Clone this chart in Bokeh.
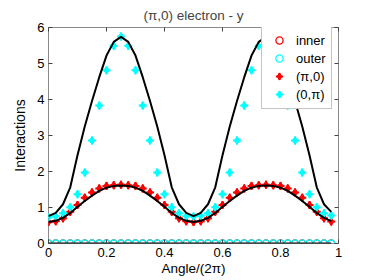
from bokeh.plotting import figure
from bokeh.models import FixedTicker, LinearAxis, Legend, LegendItem, Range1d, ColumnDataSource
from bokeh.embed import file_html
from bokeh.resources import INLINE

# ---- data ----
angle = [0.000, 0.025, 0.050, 0.075, 0.100, 0.125, 0.150, 0.175, 0.200, 0.225,
         0.250, 0.275, 0.300, 0.325, 0.350, 0.375, 0.400, 0.425, 0.450, 0.475,
         0.500, 0.525, 0.550, 0.575, 0.600, 0.625, 0.650, 0.675, 0.700, 0.725,
         0.750, 0.775, 0.800, 0.825, 0.850, 0.875, 0.900, 0.925, 0.950, 0.975]

inner = [0.0, 0.0, 0.0, 0.0, 0.0, 0.0, 0.0, 0.0, 0.0, 0.0,
         0.0, 0.0, 0.0, 0.0, 0.0, 0.0, 0.0, 0.0, 0.0, 0.0,
         0.0, 0.0, 0.0, 0.0, 0.0, 0.0, 0.0, 0.0, 0.0, 0.0,
         0.0, 0.0, 0.0, 0.0, 0.0, 0.0, 0.0, 0.0, 0.0, 0.0]

outer = [0.0, 0.0, 0.0, 0.0, 0.0, 0.0, 0.0, 0.0, 0.0, 0.0,
         0.0, 0.0, 0.0, 0.0, 0.0, 0.0, 0.0, 0.0, 0.0, 0.0,
         0.0, 0.0, 0.0, 0.0, 0.0, 0.0, 0.0, 0.0, 0.0, 0.0,
         0.0, 0.0, 0.0, 0.0, 0.0, 0.0, 0.0, 0.0, 0.0, 0.0]

pi_0 = [0.60, 0.62, 0.70, 0.88, 1.07, 1.27, 1.42, 1.53, 1.60, 1.62,
        1.63, 1.62, 1.60, 1.53, 1.42, 1.27, 1.07, 0.88, 0.70, 0.62,
        0.60, 0.62, 0.70, 0.88, 1.07, 1.27, 1.42, 1.53, 1.60, 1.62,
        1.63, 1.62, 1.60, 1.53, 1.42, 1.27, 1.07, 0.88, 0.70, 0.61]

zero_pi = [0.73, 0.76, 0.84, 1.01, 1.37, 1.97, 2.86, 3.83, 4.81, 5.49,
           5.75, 5.49, 4.81, 3.83, 2.86, 1.97, 1.37, 1.01, 0.84, 0.76,
           0.75, 0.77, 0.84, 1.01, 1.37, 1.97, 2.86, 3.83, 4.81, 5.49,
           5.75, 5.49, 4.81, 3.83, 2.86, 1.97, 1.37, 1.01, 0.84, 0.78]

model_high = [0.76, 0.85, 1.09, 1.56, 2.45, 3.25, 3.96, 4.62, 5.22, 5.60,
              5.74, 5.60, 5.22, 4.62, 3.96, 3.25, 2.45, 1.56, 1.09, 0.85,
              0.76, 0.85, 1.09, 1.56, 2.45, 3.25, 3.96, 4.62, 5.22, 5.60,
              5.74, 5.60, 5.22, 4.62, 3.96, 3.25, 2.45, 1.56, 1.09, 0.88]

model_low = [0.60, 0.63, 0.71, 0.85, 1.02, 1.18, 1.33, 1.46, 1.55, 1.60,
             1.61, 1.60, 1.55, 1.46, 1.33, 1.18, 1.02, 0.85, 0.71, 0.63,
             0.60, 0.63, 0.71, 0.85, 1.02, 1.18, 1.33, 1.46, 1.55, 1.60,
             1.61, 1.60, 1.55, 1.46, 1.33, 1.18, 1.02, 0.85, 0.71, 0.62]

model_zero = [0.0, 0.0, 0.0, 0.0, 0.0, 0.0, 0.0, 0.0, 0.0, 0.0,
              0.0, 0.0, 0.0, 0.0, 0.0, 0.0, 0.0, 0.0, 0.0, 0.0,
              0.0, 0.0, 0.0, 0.0, 0.0, 0.0, 0.0, 0.0, 0.0, 0.0,
              0.0, 0.0, 0.0, 0.0, 0.0, 0.0, 0.0, 0.0, 0.0, 0.0]

x_ticks = [0, 0.2, 0.4, 0.6, 0.8, 1]
x_tick_labels = ["0", "0.2", "0.4", "0.6", "0.8", "1"]
y_ticks = [0, 1, 2, 3, 4, 5, 6]
y_tick_labels = ["0", "1", "2", "3", "4", "5", "6"]

title_text = "(\u03c0,0) electron - y"
x_label = "Angle/(2\u03c0)"
y_label = "Interactions"
legend_labels = ["inner", "outer", "(\u03c0,0)", "(0,\u03c0)"]

src = ColumnDataSource(dict(angle=angle, inner=inner, outer=outer, pi_0=pi_0,
                            zero_pi=zero_pi, model_high=model_high,
                            model_low=model_low, model_zero=model_zero))

FONT = "Liberation Sans"
GRAY = "#8a8a8a"
RED = "#ff0000"
CYAN = "#00ffff"

p = figure(width=374, height=280, x_range=Range1d(0, 1), y_range=Range1d(0, 6),
           output_backend="svg", toolbar_location=None,
           min_border_left=48, min_border_right=36, min_border_top=25,
           min_border_bottom=37)

p.title.text = title_text
p.title.align = "center"
p.title.text_font = FONT
p.title.text_font_size = "13.5px"
p.title.text_font_style = "normal"
p.title.standoff = 10

p.xgrid.visible = False
p.ygrid.visible = False
p.outline_line_color = GRAY
p.background_fill_color = "white"
p.border_fill_color = "white"

for ax, ticks, labels in ((p.xaxis[0], x_ticks, x_tick_labels), (p.yaxis[0], y_ticks, y_tick_labels)):
    ax.ticker = FixedTicker(ticks=ticks)
    ax.major_label_overrides = {t: l for t, l in zip(ticks, labels)}
    ax.axis_line_color = None
    ax.major_tick_in = 4
    ax.major_tick_out = 0
    ax.major_tick_line_color = "#444444"
    ax.minor_tick_line_color = None
    ax.major_label_text_font = FONT
    ax.major_label_text_font_size = "13px"
    ax.major_label_text_color = "black"
    ax.axis_label_text_font = FONT
    ax.axis_label_text_font_style = "normal"
    ax.axis_label_text_color = "black"

p.xaxis[0].axis_label = x_label
p.xaxis[0].axis_label_text_font_size = "13.5px"
p.xaxis[0].major_label_standoff = 4
p.xaxis[0].axis_label_standoff = 1
p.yaxis[0].axis_label = y_label
p.yaxis[0].axis_label_text_font_size = "14px"
p.yaxis[0].major_label_standoff = 4
p.yaxis[0].axis_label_standoff = 6

# mirrored tick marks on the right and top (box on), without labels
for loc, ticks in (("right", y_ticks), ("above", x_ticks)):
    ax = LinearAxis(ticker=FixedTicker(ticks=ticks),
                    major_label_overrides={t: "" for t in ticks},
                    major_label_standoff=0, major_tick_in=4, major_tick_out=0,
                    major_tick_line_color="#444444", minor_tick_line_color=None,
                    axis_line_color=None)
    p.add_layout(ax, loc)

r_inner = p.scatter("angle", "inner", source=src, marker="circle", size=7,
                    fill_color=None, line_color=RED, line_width=1.3)
r_outer = p.scatter("angle", "outer", source=src, marker="circle", size=7,
                    fill_color=None, line_color=CYAN, line_width=1.3)
r_pi0_d = p.scatter("angle", "pi_0", source=src, marker="diamond", size=8,
                    fill_color=RED, line_color=RED, line_width=1)
r_pi0_c = p.scatter("angle", "pi_0", source=src, marker="cross", size=8,
                    line_color=RED, line_width=2)
r_0pi_d = p.scatter("angle", "zero_pi", source=src, marker="diamond", size=8,
                    fill_color=CYAN, line_color=CYAN, line_width=1)
r_0pi_c = p.scatter("angle", "zero_pi", source=src, marker="cross", size=8,
                    line_color=CYAN, line_width=2)

for col in ("model_high", "model_low", "model_zero"):
    p.line("angle", col, source=src, line_color="black", line_width=2)

legend = Legend(items=[
    LegendItem(label=legend_labels[0], renderers=[r_inner]),
    LegendItem(label=legend_labels[1], renderers=[r_outer]),
    LegendItem(label=legend_labels[2], renderers=[r_pi0_d, r_pi0_c]),
    LegendItem(label=legend_labels[3], renderers=[r_0pi_d, r_0pi_c]),
], location=(213, 134))
legend.label_text_font = FONT
legend.label_text_font_size = "13px"
legend.label_text_color = "black"
legend.glyph_width = 24
legend.glyph_height = 18
legend.label_height = 18
legend.spacing = 0
legend.padding = 5
legend.margin = 0
legend.label_standoff = 5
legend.border_line_color = GRAY
legend.border_line_width = 1
legend.background_fill_color = "white"
legend.background_fill_alpha = 1
p.add_layout(legend, "center")

open("out.html", "w").write(file_html(p, INLINE))
